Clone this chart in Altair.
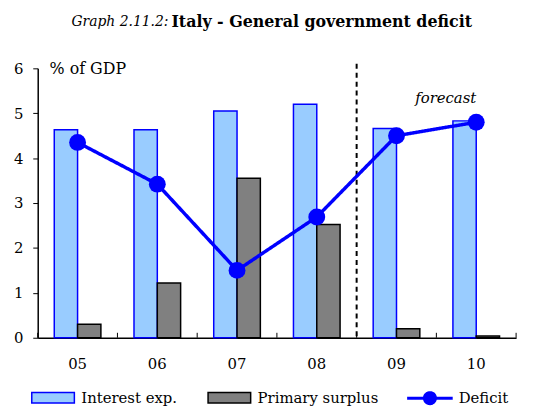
import altair as alt
import pandas as pd

years = ["05", "06", "07", "08", "09", "10"]
interest = [4.63, 4.63, 5.05, 5.2, 4.66, 4.83]
primary = [0.3, 1.22, 3.55, 2.52, 0.2, 0.04]
deficit = [4.35, 3.42, 1.5, 2.69, 4.5, 4.8]
bar_series = ["Interest exp.", "Primary surplus"]
line_series = ["Deficit"]
forecast_start = "08"

FONT = "DejaVu Serif"
BLUE = "#0000FF"

bars_df = pd.DataFrame(
    [{"year": y, "series": bar_series[0], "value": v} for y, v in zip(years, interest)]
    + [{"year": y, "series": bar_series[1], "value": v} for y, v in zip(years, primary)]
)
line_df = pd.DataFrame({"year": years, "value": deficit, "line_series": line_series[0]})

fill_scale = alt.Scale(domain=bar_series, range=["#99CCFF", "#808080"])
stroke_scale = alt.Scale(domain=bar_series, range=[BLUE, "#000000"])

x_enc = alt.X(
    "year:N",
    sort=years,
    scale=alt.Scale(paddingInner=0, paddingOuter=0),
    axis=alt.Axis(
        title=None,
        labelAngle=0,
        labelFont=FONT,
        labelFontSize=15,
        labelColor="black",
        labelPadding=19,
        ticks=False,
        domainColor="black",
        domainWidth=1.5,
    ),
)
y_enc = alt.Y(
    "value:Q",
    scale=alt.Scale(domain=[0, 6], nice=False),
    axis=alt.Axis(
        title=None,
        values=[0, 1, 2, 3, 4, 5, 6],
        grid=False,
        labelFont=FONT,
        labelFontSize=15,
        labelColor="black",
        labelPadding=10,
        tickSize=5,
        tickColor="black",
        domainColor="black",
        domainWidth=1.5,
    ),
)

rect_path = "M-1,-0.25H1V0.25H-1Z"
line_path = ("M-1.07,0H1.07M-0.26,0A0.26,0.26,0,1,1,0.26,0"
             "A0.26,0.26,0,1,1,-0.26,0Z")

bar_legend = alt.Legend(
    title=None,
    orient="none",
    direction="horizontal",
    legendX=-7,
    legendY=310,
    padding=0,
    symbolSize=1849,
    symbolType=rect_path,
    symbolStrokeWidth=1.5,
    labelFont=FONT,
    labelFontSize=15,
    labelColor="black",
    labelOffset=6,
    columnPadding=28,
    symbolOpacity=1,
)
line_legend = alt.Legend(
    title=None,
    orient="none",
    direction="horizontal",
    legendX=373,
    legendY=310,
    padding=0,
    symbolSize=1849,
    symbolType=line_path,
    symbolFillColor=BLUE,
    symbolStrokeWidth=3,
    labelFont=FONT,
    labelFontSize=15,
    labelColor="black",
    labelOffset=6,
    symbolOpacity=1,
)

bars = alt.Chart(bars_df).mark_bar(strokeWidth=1.5).encode(
    x=x_enc,
    xOffset=alt.XOffset("series:N", sort=bar_series,
                        scale=alt.Scale(paddingInner=0, paddingOuter=0.71)),
    y=y_enc,
    fill=alt.Fill("series:N", scale=fill_scale, legend=bar_legend),
    stroke=alt.Stroke("series:N", scale=stroke_scale, legend=bar_legend),
)

# category separator ticks on the x axis, pointing into the plot
xticks = alt.Chart(pd.DataFrame({"year": years})).mark_rule(color="black", strokeWidth=1).encode(
    x=alt.X("year:N", sort=years, bandPosition=0),
    y=alt.datum(0),
    y2=alt.datum(0.11),
)
xticks_end = alt.Chart(pd.DataFrame({"year": years[-1:]})).mark_rule(
    color="black", strokeWidth=1
).encode(
    x=alt.X("year:N", sort=years, bandPosition=1),
    y=alt.datum(0),
    y2=alt.datum(0.11),
)

line = alt.Chart(line_df).mark_line(strokeWidth=3.5, color=BLUE).encode(
    x=x_enc,
    y=y_enc,
    strokeDash=alt.StrokeDash("line_series:N",
                              scale=alt.Scale(domain=line_series, range=[[1, 0]]),
                              legend=line_legend),
)

points = alt.Chart(line_df).mark_point(filled=True, size=290, opacity=1, color=BLUE).encode(
    x=x_enc,
    y=y_enc,
)

split = alt.Chart(pd.DataFrame({"year": [forecast_start]})).mark_rule(
    color="black", strokeWidth=2, strokeDash=[5, 4]
).encode(
    x=alt.X("year:N", sort=years, bandPosition=1),
    y=alt.datum(6.1),
    y2=alt.datum(0),
)

one = alt.Data(values=[{"k": 1}])
title_a = alt.Chart(one).mark_text(
    text="Graph 2.11.2:", font=FONT, fontStyle="italic", fontSize=14,
    align="right", baseline="middle", color="black"
).encode(x=alt.value(132), y=alt.value(-47))
title_b = alt.Chart(one).mark_text(
    text="Italy - General government deficit", font=FONT, fontWeight="bold", fontSize=16,
    align="left", baseline="middle", color="black"
).encode(x=alt.value(135), y=alt.value(-47))
unit = alt.Chart(one).mark_text(
    text="% of GDP", font=FONT, fontSize=16, align="left", baseline="middle", color="black"
).encode(x=alt.value(12), y=alt.value(1))
fc = alt.Chart(one).mark_text(
    text="forecast", font=FONT, fontStyle="italic", fontSize=15,
    align="center", baseline="middle", color="black"
).encode(x=alt.value(412), y=alt.value(30))

chart = alt.layer(bars, xticks, xticks_end, split, line, points,
                  title_a, title_b, unit, fc).properties(
    width=483,
    height=272,
    padding={"left": 30, "top": 59, "right": 10, "bottom": 68},
    autosize=alt.AutoSizeParams(type="none"),
).configure(font=FONT).configure_view(stroke=None)

chart.save("out.html", embed_options={"renderer": "svg", "actions": False})
